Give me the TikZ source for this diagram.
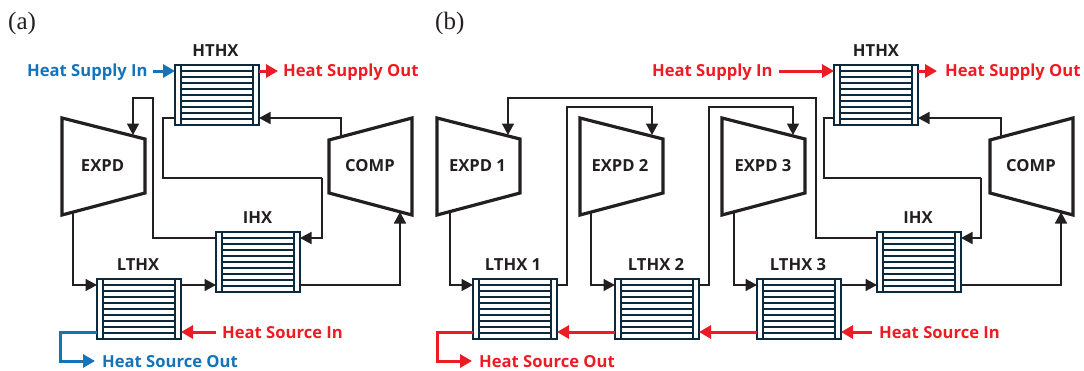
\documentclass[tikz,border=0pt]{standalone}
\usepackage{fontspec}
\setmainfont{Liberation Serif}
\newfontfamily\labfont{Open Sans}
\usetikzlibrary{arrows.meta}
\definecolor{ink}{HTML}{231F20}
\definecolor{navy}{HTML}{0B2A3D}
\definecolor{hot}{HTML}{ED1C24}
\definecolor{cold}{HTML}{1474BB}
\tikzset{
  x=1pt,y=-1pt,
  hxbox/.style={draw=navy,line width=1.7pt,fill=white,minimum width=84pt,minimum height=60pt,inner sep=0pt,outer sep=0pt,anchor=north west,
    path picture={
      \foreach \k in {1,...,9}{
        \draw[navy,line width=1.6pt] ([yshift={-6pt*\k}]path picture bounding box.north west) -- ([yshift={-6pt*\k}]path picture bounding box.north east);}
      \fill[white] (path picture bounding box.north west) rectangle ([xshift=5.5pt]path picture bounding box.south west);
      \fill[white] (path picture bounding box.north east) rectangle ([xshift=-5.5pt]path picture bounding box.south east);
      \draw[navy,line width=2pt] ([xshift=6pt]path picture bounding box.north west) -- ([xshift=6pt]path picture bounding box.south west);
      \draw[navy,line width=2pt] ([xshift=-6pt]path picture bounding box.north east) -- ([xshift=-6pt]path picture bounding box.south east);
    }},
  turbine/.style={draw=ink,line width=3.2pt,line join=miter},
  lab/.style={font=\labfont\bfseries\fontsize{16.6pt}{20pt}\selectfont,inner sep=0pt,anchor=base west},
  unitlab/.style={lab,text=ink,anchor=base},
  panel/.style={font=\fontsize{25pt}{28pt}\selectfont,inner sep=0pt,anchor=base west,text=ink},
  flow/.style={draw=ink,line width=1.6pt,line join=miter},
  flowa/.style={flow,-{Triangle[length=11.5pt,width=12pt]}},
  hotline/.style={draw=hot,line width=3pt,line join=miter},
  hota/.style={hotline,-{Triangle[length=12pt,width=13pt]}},
  coldline/.style={draw=cold,line width=3pt,line join=miter},
  colda/.style={coldline,-{Triangle[length=12pt,width=13pt]}},
}
% name, left, top, label, label centre x
\newcommand{\hxunit}[5]{
  \node[hxbox] (#1) at (#2,#3) {};
  \coordinate (#1-wu) at ([yshift=-6pt]#1.north west);
  \coordinate (#1-wl) at ([yshift=-53pt]#1.north west);
  \coordinate (#1-eu) at ([yshift=-6pt]#1.north east);
  \coordinate (#1-el) at ([yshift=-53pt]#1.north east);
  \node[unitlab] (#1-lab) at (#5,#3-9) {#4};
}
% name, left, label, label centre x
\newcommand{\expander}[4]{
  \draw[turbine] (#2,118) -- (#2+83,139) -- (#2+83,193) -- (#2,215) -- cycle;
  \node[unitlab] (#1) at (#4,171) {#3};
}
\newcommand{\compressor}[4]{
  \draw[turbine] (#2,140) -- (#2+83,118) -- (#2+83,215) -- (#2,193) -- cycle;
  \node[unitlab] (#1) at (#4,171) {#3};
}
\begin{document}
\begin{tikzpicture}
\useasboundingbox (0,0) rectangle (1084,370);
\fill[white] (0,0) rectangle (1084,370);

\node[panel] (pa) at (8,29) {(a)};
\node[panel] (pb) at (435,29) {(b)};

% ---------- panel (a) ----------
\expander{aexp}{62}{EXPD}{102.5}
\compressor{acomp}{329}{COMP}{370}
\hxunit{ah}{175}{65}{HTHX}{215.5}
\hxunit{al}{97}{279}{LTHX}{138}
\hxunit{ai}{216}{232}{IHX}{257.5}
\coordinate (aexp-in) at (133,135);
\coordinate (aexp-out) at (73,213);
\coordinate (acomp-out) at (341,136);
\coordinate (acomp-in) at (400,212);

\draw[flow] (ah-wl) -- ++(-12,0) |- (322,178);
\draw[flowa] (322,178) |- (ai-eu);
\draw[flowa] (acomp-out) |- (ah-el);
\draw[flowa] (ai-wu) -- ++(-63,0) |- (133,98) -- (aexp-in);
\draw[flowa] (aexp-out) |- (al-wu);
\draw[flowa] (al-eu) -- (al-eu -| ai.west);
\draw[flowa] (ai-el) -| (acomp-in);

\node[lab,text=cold] (asi) at (27,76) {Heat Supply In};
\node[lab,text=hot] (aso) at (283,76) {Heat Supply Out};
\node[lab,text=hot] (ali) at (222,338) {Heat Source In};
\node[lab,text=cold] (alo) at (102,367) {Heat Source Out};
\draw[colda] ([xshift=-22pt]ah-wu) -- (ah-wu);
\draw[hota] (ah-eu) -- ++(19,0);
\draw[hota] ([xshift=35pt]al-el) -- (al-el);
\draw[colda] (al-wl) -- ++(-37,0) |- (95,361);

% ---------- panel (b) ----------
\expander{be1}{437}{EXPD 1}{477.5}
\expander{be2}{580}{EXPD 2}{620}
\expander{be3}{722}{EXPD 3}{763}
\compressor{bcomp}{990}{COMP}{1031}
\hxunit{bh}{834}{65}{HTHX}{876}
\hxunit{bi}{877}{232}{IHX}{918}
\hxunit{bl1}{473}{279}{LTHX 1}{513}
\hxunit{bl2}{615}{279}{LTHX 2}{656}
\hxunit{bl3}{757}{279}{LTHX 3}{798}
\coordinate (be1-in) at (508,135);
\coordinate (be2-in) at (652,135);
\coordinate (be3-in) at (793,135);
\coordinate (be1-out) at (450,213);
\coordinate (be2-out) at (591,213);
\coordinate (be3-out) at (734,213);
\coordinate (bcomp-out) at (1001,136);
\coordinate (bcomp-in) at (1061,212);

\draw[flowa] (be1-out) |- (bl1-wu);
\draw[flowa] (be2-out) |- (bl2-wu);
\draw[flowa] (be3-out) |- (bl3-wu);
\draw[flowa] (bl1-eu) -- ++(10,0) |- (652,107) -- (be2-in);
\draw[flowa] (bl2-eu) -- ++(10,0) |- (793,107) -- (be3-in);
\draw[flowa] (bl3-eu) -- (bl3-eu -| bi.west);
\draw[flowa] (bi-wu) -- ++(-61,0) |- (508,98) -- (be1-in);
\draw[flow] (bh-wl) -- ++(-10,0) |- (981,178);
\draw[flowa] (981,178) |- (bi-eu);
\draw[flowa] (bcomp-out) |- (bh-el);
\draw[flowa] (bi-el) -| (bcomp-in);

\node[lab,text=hot] (bsi) at (652,76) {Heat Supply In};
\node[lab,text=hot] (bso) at (945,76) {Heat Supply Out};
\node[lab,text=hot] (bli) at (879,338) {Heat Source In};
\node[lab,text=hot] (blo) at (479,367) {Heat Source Out};
\draw[hota] ([xshift=-55pt]bh-wu) -- (bh-wu);
\draw[hota] (bh-eu) -- ++(19,0);
\draw[hota] ([xshift=31pt]bl3-el) -- (bl3-el);
\draw[hota] (bl3-wl) -- (bl2-el);
\draw[hota] (bl2-wl) -- (bl1-el);
\draw[hota] (bl1-wl) -- ++(-36,0) |- (472,361);
\end{tikzpicture}
\end{document}
